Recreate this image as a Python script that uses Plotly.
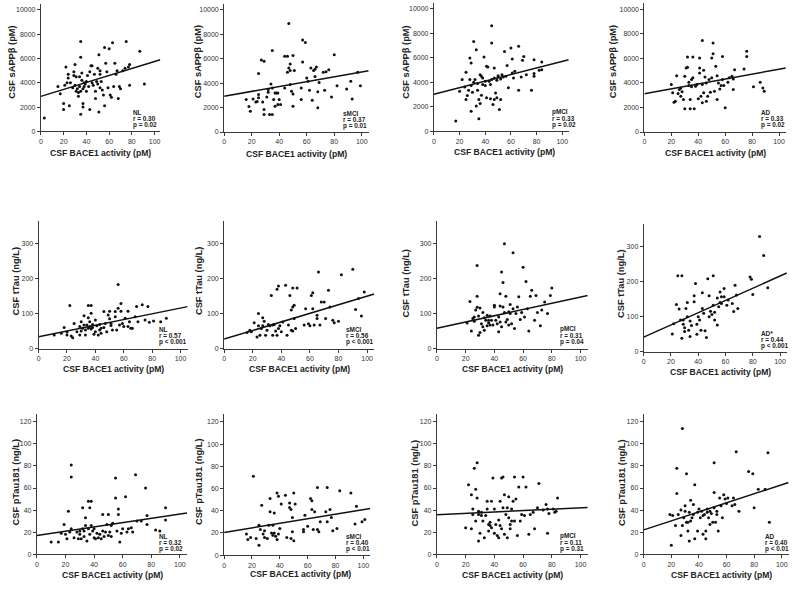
import plotly.graph_objects as go

# ---------------- DATA ----------------
x_ticks = [0, 20, 40, 60, 80, 100]
row_y_ticks = [[0, 2000, 4000, 6000, 8000, 10000], [0, 100, 200, 300], [0, 20, 40, 60, 80, 100, 120]]
row_y_titles = ["CSF sAPPβ (pM)", "CSF tTau (ng/L)", "CSF pTau181 (ng/L)"]
x_title = "CSF BACE1 activity (pM)"
groups = ["NL", "sMCI", "pMCI", "AD", "NL", "sMCI", "pMCI", "AD*", "NL", "sMCI", "pMCI", "AD"]
r_texts = ["r = 0.30", "r = 0.37", "r = 0.33", "r = 0.33",
           "r = 0.57", "r = 0.56", "r = 0.31", "r = 0.44",
           "r = 0.32", "r = 0.40", "r = 0.11", "r = 0.40"]
p_texts = ["p = 0.02", "p = 0.01", "p = 0.02", "p = 0.02",
           "p &lt; 0.001", "p &lt; 0.001", "p = 0.04", "p &lt; 0.001",
           "p = 0.02", "p &lt; 0.01", "p = 0.31", "p &lt; 0.01"]
# regression line values at BACE1 = 0 and BACE1 = 105
fit_start = [2880, 2930, 3030, 3110, 34, 27, 58, 41, 17, 20.5, 35.8, 22]
fit_end = [5900, 5030, 5850, 5220, 120, 156, 152, 224, 37.3, 42, 42.4, 65]

nl_sappb = [(3,1100),(15,3700),(17,3100),(20,1800),(20,2300),(21,3800),(22,5300),(23,4000),(24,4700),(24,4400),
            (25,2100),(26,4000),(28,3600),(29,4900),(29,4600),(30,3800),(30,5500),(31,4500),(31,3300),(32,3500),
            (33,2900),(33,3200),(34,4500),(34,3700),(35,7400),(35,6100),(35,1400),(35,3300),(36,4800),(36,4200),
            (37,2000),(37,2300),(37,3500),(38,3700),(38,4000),(39,3900),(40,4100),(40,3300),(41,4600),(42,3700),
            (43,1800),(43,4900),(44,5400),(45,4000),(45,5400),(46,3800),(47,4700),(48,3300),(48,2700),(49,4100),
            (50,5200),(50,3900),(51,6300),(51,1600),(52,5000),(52,4700),(52,3600),(53,4100),(54,3400),(55,3000),
            (56,2100),(56,6900),(57,5600),(58,4900),(59,3600),(60,6800),(61,3000),(62,2800),(63,7300),(64,3700),
            (65,5600),(66,4700),(67,5000),(68,2700),(69,3700),(70,3500),(72,5000),(74,5200),(75,7400),(77,5300),
            (78,3800),(78,5500),(87,6600),(91,3900)]
smci_sappb = [(16,2660),(18,2100),(19,1700),(21,2700),(23,2450),(24,2500),(25,2800),(25,3070),(25,4800),(27,5900),
              (29,5800),(28,2470),(29,1850),(29,1440),(31,2880),(32,3260),(32,3480),(33,1440),(34,3940),(35,3600),
              (35,6690),(35,1440),(36,2660),(37,3200),(37,2120),(38,3200),(39,2250),(39,3200),(40,2660),(41,2250),
              (44,6200),(44,3600),(46,4890),(46,6200),(47,8900),(47,5240),(48,5570),(48,5050),(48,3890),(49,3340),
              (50,6280),(50,3120),(50,2120),(51,5050),(56,3600),(56,2660),(57,7550),(57,5730),(59,7330),(60,4430),
              (61,4160),(62,3420),(63,5240),(64,2610),(65,5050),(66,5140),(66,4540),(67,5330),(68,1990),(68,3290),
              (69,4050),(72,4890),(73,3420),(74,4940),(76,5110),(78,2880),(80,6330),(82,3800),(89,3530),(92,4160),
              (93,2700),(97,4890),(99,3800)]
pmci_sappb = [(17,840),(20,3280),(22,4230),(24,3630),(25,2600),(25,4820),(26,2930),(27,3360),(28,5990),(28,4230),
              (29,5580),(29,3740),(29,1650),(30,3200),(31,7340),(31,4010),(32,4230),(33,6670),(33,2060),(34,3900),
              (34,3360),(35,2600),(35,1030),(36,2280),(36,4630),(37,4500),(37,2950),(38,4360),(38,3820),(39,6070),
              (40,3740),(40,4090),(41,2740),(41,5310),(42,5260),(43,4090),(44,2660),(44,3820),(45,7210),(45,8620),
              (45,4230),(46,2200),(47,4360),(47,5170),(47,2600),(48,3140),(49,2740),(49,4170),(50,4440),(50,4550),
              (51,1790),(52,4280),(52,2600),(53,4630),(54,4440),(55,6530),(56,4500),(57,5370),(58,3550),(60,6800),
              (61,4770),(61,5910),(62,4360),(63,4900),(66,6940),(66,3360),(68,4440),(69,5800),(70,6120),(72,4630),
              (76,3360),(78,5850),(78,4500),(78,4720),(82,4980),(84,5040),(84,5660)]
ad_sappb = [(20,3860),(21,3190),(22,2430),(23,2510),(24,4590),(25,3140),(26,3460),(27,2920),(27,3590),(28,3270),
            (29,2650),(30,4540),(30,1890),(31,5220),(32,6110),(32,5270),(33,4050),(33,3780),(34,1890),(34,2650),
            (35,3680),(35,4270),(36,4410),(36,6110),(37,1890),(38,3730),(39,3860),(40,2700),(41,5220),(41,6030),
            (41,4810),(42,2920),(43,2380),(43,7460),(43,3860),(44,5030),(44,3190),(45,4490),(46,4000),(46,2510),
            (47,2920),(48,4270),(49,3240),(50,6030),(50,4410),(51,7240),(51,6380),(52,3320),(53,5350),(54,4590),
            (54,2650),(55,4000),(56,3510),(57,3780),(58,4270),(58,6160),(59,3780),(60,1970),(62,4050),(63,4410),
            (65,4540),(66,4320),(66,3460),(67,5080),(74,5140),(76,6570),(76,6160),(81,3680),(86,4050),(88,3590),
            (89,3320)]
nl_ttau = [(11,39),(16,44),(18,60),(20,47),(20,39),(22,123),(23,36),(24,31),(25,72),(27,48),(29,63),(29,39),(30,77),
           (30,50),(31,58),(32,67),(32,94),(33,39),(33,53),(34,67),(35,123),(35,88),(35,58),(36,63),(36,77),(37,56),
           (37,123),(37,101),(38,60),(38,69),(39,41),(40,82),(40,48),(41,65),(42,39),(43,53),(43,69),(44,44),(44,58),
           (46,60),(46,106),(47,72),(48,48),(49,96),(50,107),(50,85),(51,66),(51,72),(52,53),(54,106),(54,91),(55,53),
           (56,183),(56,115),(57,67),(58,129),(58,107),(59,72),(60,63),(61,87),(63,63),(63,107),(64,77),(65,58),
           (66,58),(68,91),(69,120),(70,77),(73,125),(75,82),(77,120),(78,75),(81,79),(86,77),(90,87)]
smci_ttau = [(16,46),(18,52),(19,48),(21,74),(23,33),(24,100),(24,65),(25,38),(26,57),(27,88),(27,65),(28,78),(29,38),
             (30,52),(31,69),(32,65),(33,152),(34,67),(34,38),(35,69),(36,50),(37,38),(37,170),(38,57),(38,179),(39,65),
             (40,48),(41,76),(43,181),(44,38),(45,67),(46,152),(47,52),(47,110),(48,173),(48,50),(48,119),(49,86),
             (49,124),(50,57),(51,173),(56,67),(57,114),(59,71),(60,65),(61,152),(62,160),(62,114),(63,67),(65,95),
             (65,86),(66,219),(67,67),(68,133),(70,133),(71,86),(73,167),(74,119),(76,81),(77,74),(80,78),(82,211),
             (90,227),(92,112),(94,143),(96,93),(98,162)]
pmci_ttau = [(21,73),(23,135),(24,50),(25,86),(26,78),(26,90),(27,110),(28,238),(28,150),(28,118),(29,38),(29,93),
             (30,116),(30,46),(31,71),(32,103),(32,62),(33,52),(33,88),(34,81),(35,65),(35,95),(36,74),(36,81),(37,67),
             (37,93),(38,81),(39,67),(40,119),(40,124),(41,81),(42,71),(43,90),(43,48),(44,157),(44,76),(44,122),
             (45,219),(45,62),(46,119),(46,189),(47,300),(47,103),(48,150),(48,76),(49,83),(50,105),(50,67),(51,100),
             (51,126),(52,71),(53,274),(53,114),(54,57),(55,100),(56,119),(57,148),(58,83),(59,103),(60,233),(61,90),
             (62,192),(63,114),(64,50),(65,150),(66,167),(68,81),(69,152),(70,103),(72,65),(73,110),(75,133),(77,100),
             (79,152),(80,173)]
ad_ttau = [(21,50),(22,79),(24,134),(25,216),(26,121),(27,90),(28,38),(28,216),(29,78),(29,90),(30,68),(30,57),
           (31,123),(32,140),(32,99),(33,61),(34,43),(34,87),(35,74),(37,142),(37,159),(38,194),(39,78),(39,49),
           (40,99),(41,90),(42,61),(43,168),(43,123),(44,109),(45,59),(46,40),(47,208),(48,99),(48,159),(49,115),
           (50,106),(51,132),(51,216),(52,112),(52,90),(54,153),(54,76),(55,128),(56,140),(56,170),(57,156),(57,137),
           (59,180),(59,156),(61,132),(62,147),(65,137),(66,114),(67,189),(68,161),(69,123),(78,213),(79,206),
           (80,163),(85,328),(88,274),(91,182)]
nl_ptau = [(10,11),(15,11),(17,19),(19,27),(20,18),(21,14),(22,39),(23,20),(24,81),(24,70),(24,23),(26,15),(28,20),
           (29,14),(30,21),(30,18),(31,14),(32,23),(32,42),(33,16),(33,21),(34,26),(34,33),(35,12),(36,23),(36,48),
           (37,18),(37,42),(38,26),(38,48),(39,21),(40,15),(40,23),(41,14),(42,19),(43,15),(44,18),(45,14),(46,36),
           (46,21),(47,16),(48,20),(49,27),(50,36),(50,17),(51,20),(52,26),(52,16),(53,28),(55,69),(55,51),(56,21),
           (57,36),(57,41),(58,11),(59,19),(60,23),(62,52),(63,20),(64,23),(66,24),(67,20),(69,72),(70,30),(73,30),
           (76,60),(77,35),(77,27),(83,22),(86,21),(90,42),(90,31)]
smci_ptau = [(16,19),(17,14),(19,16),(21,71),(23,15),(25,27),(25,9),(26,23),(27,45),(28,19),(29,22),(29,16),(31,15),
             (32,27),(33,39),(33,51),(34,20),(35,18),(35,27),(36,38),(36,20),(37,17),(38,56),(38,14),(39,19),(39,53),
             (40,24),(41,46),(44,54),(45,16),(47,47),(47,43),(48,41),(48,15),(49,34),(49,21),(50,56),(50,13),(51,46),
             (57,23),(57,21),(58,36),(60,26),(62,51),(63,49),(63,41),(64,23),(65,39),(67,23),(67,61),(68,21),(69,30),
             (73,39),(74,30),(74,61),(76,41),(77,34),(78,22),(81,24),(83,58),(91,56),(94,28),(95,44),(99,30),(101,32)]
pmci_ptau = [(20,24),(22,63),(24,23),(24,54),(25,41),(25,36),(26,78),(27,30),(27,59),(28,51),(28,83),(29,36),(29,12),
             (29,39),(30,19),(31,38),(31,35),(32,30),(33,15),(34,35),(35,48),(35,41),(36,21),(36,27),(37,26),(37,29),
             (38,48),(38,24),(39,69),(40,19),(40,41),(41,27),(42,17),(43,31),(43,15),(44,48),(44,26),(45,23),(45,69),
             (46,42),(46,70),(47,18),(47,54),(48,36),(49,15),(49,42),(50,52),(50,33),(51,27),(51,23),(52,41),(52,30),
             (53,48),(54,70),(54,30),(55,50),(56,17),(57,61),(58,30),(59,36),(60,70),(61,35),(62,61),(64,18),(65,36),
             (67,38),(68,23),(70,42),(71,64),(74,40),(76,45),(77,19),(77,41),(78,37),(81,41),(82,38),(83,39),(84,51)]
ad_ptau = [(19,36),(20,8),(21,35),(23,26),(24,78),(24,55),(25,36),(27,40),(27,17),(28,114),(28,26),(29,33),(30,39),
           (30,44),(31,29),(31,73),(32,21),(32,29),(33,12),(33,38),(34,49),(34,30),(35,33),(36,45),(36,36),(37,63),
           (37,14),(39,38),(39,21),(40,41),(41,33),(42,39),(43,18),(43,35),(44,36),(45,14),(45,21),(46,38),(46,41),
           (47,33),(48,27),(48,39),(49,37),(50,29),(51,42),(51,83),(51,56),(52,29),(53,39),(53,36),(54,21),(55,51),
           (56,44),(57,33),(58,54),(59,50),(60,46),(61,51),(64,44),(65,51),(66,45),(67,93),(69,39),(76,75),(79,73),
           (80,42),(83,59),(88,59),(90,92),(91,29)]

panels_data = [nl_sappb, smci_sappb, pmci_sappb, ad_sappb,
               nl_ttau, smci_ttau, pmci_ttau, ad_ttau,
               nl_ptau, smci_ptau, pmci_ptau, ad_ptau]

# ---------------- LAYOUT GEOMETRY (pixels) ----------------
W, H = 800, 589
X_MAX = 105
row_ymax = [10500, 365, 127]
# (x pixel of 0, px per x unit, y pixel of 0, y pixel of top)
geom = [
    (39.0, 1.14, 132.0, 3.9), (222.7, 1.38, 132.7, 3.9), (433.0, 1.287, 132.0, 2.8), (644.0, 1.35, 132.7, 3.1),
    (36.7, 1.423, 350.3, 222.2), (222.7, 1.433, 350.3, 222.2), (436.0, 1.44, 350.3, 222.2), (643.3, 1.367, 353.3, 224.8),
    (35.0, 1.433, 557.0, 416.3), (222.7, 1.396, 558.0, 416.2), (436.0, 1.44, 557.0, 416.3), (643.3, 1.384, 557.0, 416.3),
]
xtitle_pos = [(98.7, 154), (295.7, 155), (503.7, 153), (715.7, 154),
              (111.7, 371), (298.7, 371), (511.3, 371), (720.7, 373.7),
              (110.3, 577.5), (299.3, 577), (511.7, 577.5), (721.7, 577.5)]
ytitle_pos = [(10, 62), (196, 62), (405, 62), (612, 62),
              (14, 282), (197, 282), (405, 284), (620, 285),
              (14, 484), (197, 484), (414, 485), (621, 485)]
stat_pos = [(129, 129), (340, 130), (549, 129), (759, 129),
            (155, 347), (343, 347), (557, 347), (759, 351),
            (155, 555), (343, 555), (557, 555), (763, 555)]

FONT = "Liberation Sans, Arial, sans-serif"
AX = "#3a3a3a"

fig = go.Figure()
annotations = []
layout_axes = {}

for i in range(12):
    row = i // 4
    x0, ppu, y0, ytop = geom[i]
    x1 = x0 + X_MAX * ppu
    n = "" if i == 0 else str(i + 1)
    xa, ya = "x" + n, "y" + n
    pts = panels_data[i]
    fig.add_trace(go.Scatter(
        x=[p[0] for p in pts], y=[p[1] for p in pts], mode="markers",
        marker=dict(size=3, color="#111111"), xaxis=xa, yaxis=ya,
        showlegend=False, hoverinfo="x+y"))
    fig.add_trace(go.Scatter(
        x=[0, X_MAX], y=[fit_start[i], fit_end[i]], mode="lines",
        line=dict(color="#111111", width=1.5), xaxis=xa, yaxis=ya,
        showlegend=False, hoverinfo="skip"))
    layout_axes["xaxis" + n] = dict(
        domain=[x0 / W, x1 / W], range=[0, X_MAX], anchor=ya,
        tickvals=x_ticks, ticks="outside", ticklen=3, tickwidth=1, tickcolor=AX,
        showline=True, linecolor=AX, linewidth=1, showgrid=False, zeroline=False,
        tickfont=dict(size=7, color="#333333", family=FONT), fixedrange=True)
    layout_axes["yaxis" + n] = dict(
        domain=[1 - y0 / H, 1 - ytop / H], range=[0, row_ymax[row]], anchor=xa,
        tickvals=row_y_ticks[row], tickformat="d", ticks="outside", ticklen=3, tickwidth=1, tickcolor=AX,
        showline=True, linecolor=AX, linewidth=1, showgrid=False, zeroline=False,
        tickfont=dict(size=7, color="#333333", family=FONT), fixedrange=True)
    tx, ty = xtitle_pos[i]
    annotations.append(dict(x=tx / W, y=1 - ty / H, xref="paper", yref="paper",
                            text="<b>" + x_title + "</b>", showarrow=False,
                            xanchor="center", yanchor="middle",
                            font=dict(size=8.6, color="#222222", family=FONT)))
    yx, yy = ytitle_pos[i]
    annotations.append(dict(x=yx / W, y=1 - yy / H, xref="paper", yref="paper",
                            text="<b>" + row_y_titles[row] + "</b>", showarrow=False,
                            textangle=-90, xanchor="center", yanchor="middle",
                            font=dict(size=9.3, color="#222222", family=FONT)))
    sx, sb = stat_pos[i]
    for txt, off in [(groups[i], 16), (r_texts[i], 9.5), (p_texts[i], 3)]:
        annotations.append(dict(x=sx / W, y=1 - (sb - off) / H, xref="paper", yref="paper",
                                text="<b>" + txt + "</b>", showarrow=False,
                                xanchor="left", yanchor="middle",
                                font=dict(size=6.4, color="#222222", family=FONT)))

fig.update_layout(
    width=W, height=H, margin=dict(l=0, r=0, t=0, b=0),
    paper_bgcolor="white", plot_bgcolor="white",
    annotations=annotations, showlegend=False, **layout_axes)

fig.write_html("out.html", config={"displayModeBar": False},
               post_script="document.body.style.margin='0';document.body.style.overflow='hidden';")
